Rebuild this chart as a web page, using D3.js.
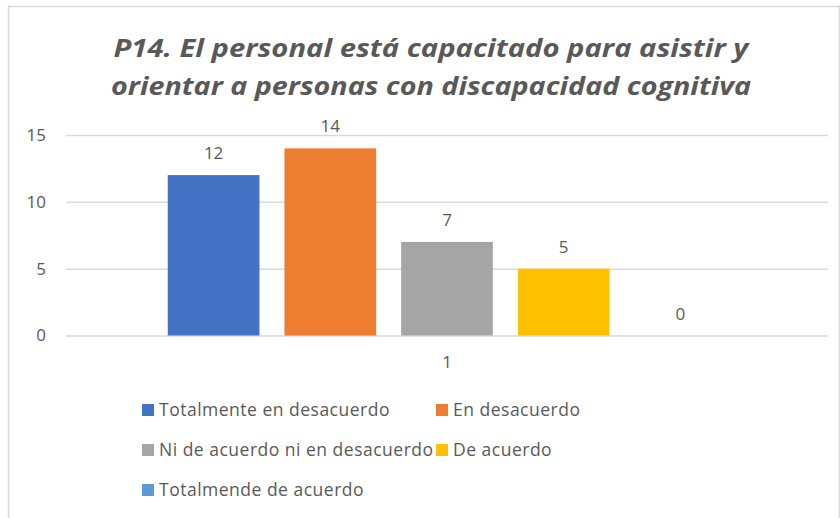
<!DOCTYPE html>
<html>
<head>
<meta charset="utf-8">
<script src="https://cdn.jsdelivr.net/npm/d3@7"></script>
<style>
  html, body { margin: 0; padding: 0; background: #fff; }
  svg { display: block; }
</style>
</head>
<body>
<script>
const titleLines = ["P14. El personal está capacitado para asistir y", "orientar a personas con discapacidad cognitiva"];
const categories = ["1"];
const seriesNames = ["Totalmente en desacuerdo", "En desacuerdo", "Ni de acuerdo ni en desacuerdo", "De acuerdo", "Totalmende de acuerdo"];
const seriesValues = [12, 14, 7, 5, 0];
const seriesColors = ["#4472C4", "#ED7D31", "#A5A5A5", "#FFC000", "#5B9BD5"];
const yTicks = [0, 5, 10, 15];

const W = 840, H = 518;
const textColor = "#595959";
const font = "'Open Sans', 'Noto Sans', sans-serif";

const svg = d3.select("body").append("svg").attr("width", W).attr("height", H);
svg.append("rect").attr("width", W).attr("height", H).attr("fill", "#fff");

// chart border
svg.append("rect")
  .attr("x", 8.5).attr("y", 6.5)
  .attr("width", 831).attr("height", H + 10)
  .attr("fill", "none").attr("stroke", "#d9d9d9").attr("stroke-width", 1.5);

// title
const titleG = svg.append("g");
const titleWidths = [635, 640];
const titleY = [57, 95];
titleLines.forEach((t, i) => {
  titleG.append("text")
    .attr("x", 431).attr("y", titleY[i])
    .attr("text-anchor", "middle")
    .attr("font-family", font)
    .attr("font-style", "italic")
    .attr("font-weight", "bold")
    .attr("font-size", 25)
    .attr("fill", textColor)
    .attr("textLength", titleWidths[i])
    .attr("lengthAdjust", "spacingAndGlyphs")
    .text(t);
});

// scales
const plotLeft = 66, plotRight = 828;
const y = d3.scaleLinear().domain([0, 15]).range([335.5, 135]);
const x0 = d3.scaleBand().domain(categories).range([plotLeft, plotRight]).padding(0);
const x1 = d3.scaleBand().domain(seriesNames).range([0, x0.bandwidth()])
  .paddingInner(0.214).paddingOuter(0.872);

// grid + y axis
const yAxis = d3.axisLeft(y).tickValues(yTicks).tickSize(-(plotRight - plotLeft)).tickPadding(20);
const yg = svg.append("g").attr("transform", `translate(${plotLeft},0)`).call(yAxis);
yg.select(".domain").remove();
yg.selectAll(".tick line").attr("stroke", "#d9d9d9").attr("stroke-width", 1.5);
yg.selectAll(".tick text")
  .attr("font-family", font).attr("font-size", 17).attr("fill", textColor);

// bars
const data = seriesNames.map((s, i) => ({ cat: categories[0], name: s, value: seriesValues[i], color: seriesColors[i] }));
const barsG = svg.append("g");
barsG.selectAll("rect").data(data).join("rect")
  .attr("x", d => x0(d.cat) + x1(d.name))
  .attr("y", d => y(d.value))
  .attr("width", x1.bandwidth())
  .attr("height", d => y(0) - y(d.value))
  .attr("fill", d => d.color);

// data labels
barsG.selectAll("text").data(data).join("text")
  .attr("x", d => x0(d.cat) + x1(d.name) + x1.bandwidth() / 2)
  .attr("y", d => y(d.value) - 16)
  .attr("text-anchor", "middle")
  .attr("font-family", font).attr("font-size", 17).attr("fill", textColor)
  .text(d => d.value);

// x axis category label
const xAxis = d3.axisBottom(x0).tickSize(0).tickPadding(20);
const xg = svg.append("g").attr("transform", `translate(0,${y(0)})`).call(xAxis);
xg.select(".domain").remove();
xg.selectAll(".tick text").attr("font-family", font).attr("font-size", 17).attr("fill", textColor);

// legend
const legendPos = [[142, 410], [436, 410], [142, 450], [436, 450], [142, 490]];
const lg = svg.append("g");
data.forEach((d, i) => {
  const [lx, ly] = legendPos[i];
  lg.append("rect").attr("x", lx).attr("y", ly - 6).attr("width", 12).attr("height", 12).attr("fill", d.color);
  lg.append("text").attr("x", lx + 17).attr("y", ly).attr("dy", "0.35em")
    .attr("font-family", font).attr("font-size", 17.5).attr("letter-spacing", 0.5).attr("fill", textColor)
    .text(d.name);
});
</script>
</body>
</html>
